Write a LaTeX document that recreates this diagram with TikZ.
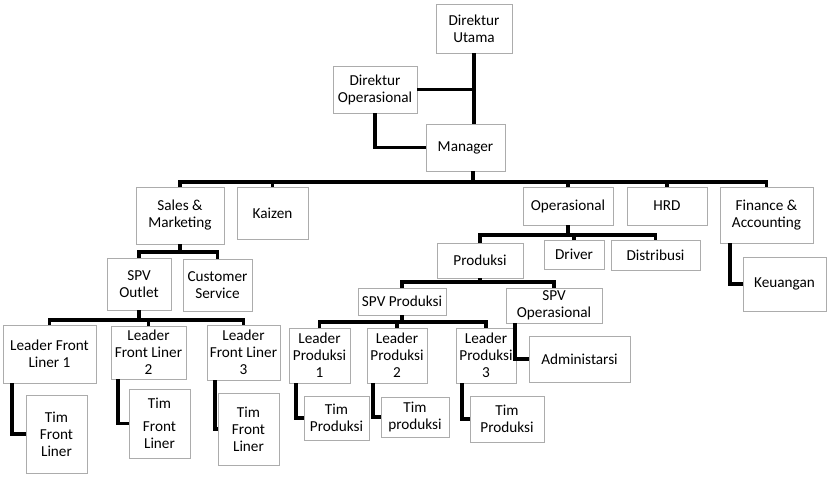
\documentclass[tikz,border=0pt]{standalone}
\usepackage{fontspec}
\setmainfont{Carlito}
\usetikzlibrary{shadows}

\begin{document}
\begin{tikzpicture}[x=0.3mm, y=-0.3mm,
        unit/.style={draw=gray!65, fill=white, line width=0.7pt, align=center, inner sep=1pt, outer sep=0pt,
            font=\fontsize{13}{14.5}\selectfont,
            drop shadow={shadow xshift=1.2pt, shadow yshift=-1.2pt, fill=black, opacity=0.25}},
        wh/.style 2 args={minimum width=#1*0.3mm, minimum height=#2*0.3mm},
        link/.style={line width=3.2pt, draw=black, line join=miter}
    ]
        \useasboundingbox (0,0) rectangle (832,482);

        \node[unit, wh={76}{49}] (dirut) at (474,28.5) {Direktur\\Utama};
        \node[unit, wh={84}{47}] (dirop) at (375,89.5) {Direktur\\Operasional};
        \node[unit, wh={79}{47}] (mgr) at (465.5,147.5) {Manager};

        \node[unit, wh={88}{57}] (sales) at (180,215.5) {Sales \&\\Marketing};
        \node[unit, wh={71}{52}] (kaizen) at (272.5,213) {Kaizen};
        \node[unit, wh={90}{38}] (ops) at (568,206) {Operasional};
        \node[unit, wh={80}{38}] (hrd) at (667,206) {HRD};
        \node[unit, wh={93}{56}] (fin) at (766.5,215) {Finance \&\\Accounting};
        \node[unit, wh={83}{54}] (keu) at (784.5,284) {Keuangan};

        \node[unit, wh={64}{52}] (outlet) at (139,284) {SPV\\Outlet};
        \node[unit, wh={69}{52}] (cs) at (217.5,285) {Customer\\Service};
        \node[unit, wh={93}{58}] (lf1) at (49.5,354) {Leader Front\\Liner 1};
        \node[unit, wh={75}{53}] (lf2) at (148.5,352.5) {Leader\\Front Liner\\2};
        \node[unit, wh={73}{55}] (lf3) at (243.5,352.5) {Leader\\Front Liner\\3};
        \node[unit, wh={61}{78}] (tf1) at (56.5,434) {Tim\\Front\\Liner};
        \node[unit, wh={61}{69}] (tf2) at (159.5,423.5) {Tim\\[5pt]Front\\Liner};
        \node[unit, wh={61}{72}] (tf3) at (248.5,429) {Tim\\Front\\Liner};

        \node[unit, wh={86}{35}] (prod) at (480,260.5) {Produksi};
        \node[unit, wh={60}{29}] (driver) at (574,254.5) {Driver};
        \node[unit, wh={89}{30}] (dist) at (655.5,255) {Distribusi};
        \node[unit, wh={88}{27}] (sprod) at (402,301.5) {SPV Produksi};
        \node[unit, wh={96}{35}] (sop) at (554,305.5) {SPV\\Operasional};
        \node[unit, wh={61}{55}] (lp1) at (319.5,355.5) {Leader\\Produksi\\1};
        \node[unit, wh={60}{55}] (lp2) at (397,355.5) {Leader\\Produksi\\2};
        \node[unit, wh={60}{55}] (lp3) at (486,355.5) {Leader\\Produksi\\3};
        \node[unit, wh={65}{44}] (tp1) at (336.5,418) {Tim\\Produksi};
        \node[unit, wh={68}{40}] (tp2) at (415,417) {Tim\\produksi};
        \node[unit, wh={74}{46}] (tp3) at (507,419) {Tim\\Produksi};
        \node[unit, wh={101}{46}] (adm) at (579.5,359) {Administarsi};

        \draw[link] (dirut.south) -- (dirut.south |- mgr.north);
        \draw[link] (dirop.east) -- (dirop.east -| dirut.south);
        \draw[link] (dirop.south) |- (mgr.west);

        \coordinate (bus) at (473,182);
        \draw[link] (mgr.south -| bus) -- (bus);
        \draw[link] (sales.north) |- (bus) -| (fin.north);
        \draw[link] (kaizen.north) -- (kaizen.north |- bus);
        \draw[link] (ops.north) -- (ops.north |- bus);
        \draw[link] (hrd.north) -- (hrd.north |- bus);
        \draw[link] ([xshift=3mm]fin.south west) |- (keu.west);

        \draw[link] (sales.south) -- ++(0,8) coordinate (sb);
        \draw[link] (outlet.north) |- (sb) -| (cs.north);
        \draw[link] (outlet.south) -- ++(0,10) coordinate (ob);
        \draw[link] (lf1.north) |- (ob) -| (lf3.north);
        \draw[link] (lf2.north) -- (lf2.north |- ob);
        \draw[link] ([xshift=2.7mm]lf1.south west) |- (tf1.west);
        \draw[link] ([xshift=2.1mm]lf2.south west) |- (tf2.west);
        \draw[link] ([xshift=2.4mm]lf3.south west) |- (tf3.west);

        \draw[link] (ops.south) -- ++(0,10) coordinate (pb);
        \draw[link] (prod.north) |- (pb) -| (dist.north);
        \draw[link] (driver.north) -- (driver.north |- pb);
        \draw[link] (prod.south) -- ++(0,4) coordinate (sb2);
        \draw[link] (sprod.north) |- (sb2) -| (sop.north);
        \draw[link] (sprod.south) -- ++(0,7) coordinate (lb);
        \draw[link] (lp1.north) |- (lb) -| (lp3.north);
        \draw[link] (lp2.north) -- (lp2.north |- lb);
        \draw[link] ([xshift=2.1mm]lp1.south west) |- (tp1.west);
        \draw[link] ([xshift=1.8mm]lp2.south west) |- (tp2.west);
        \draw[link] ([xshift=1.8mm]lp3.south west) |- (tp3.west);
        \draw[link] ([xshift=2.7mm]sop.south west) |- (adm.west);
    \end{tikzpicture}
\end{document}
